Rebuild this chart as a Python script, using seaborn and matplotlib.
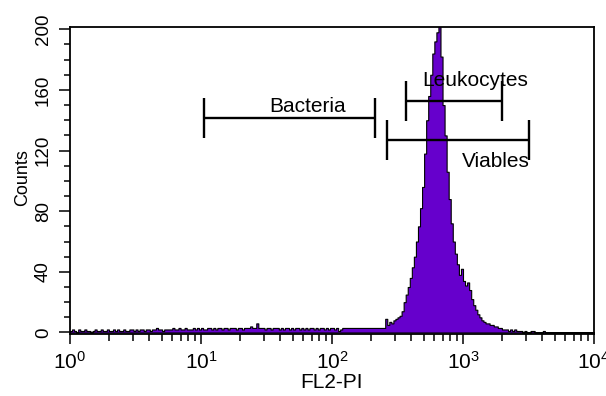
import numpy as np
import pandas as pd
import seaborn as sns
import matplotlib
matplotlib.use('Agg')
import matplotlib.pyplot as plt
from matplotlib.ticker import FixedLocator, MultipleLocator

# FL2-PI histogram, 256 log channels over 4 decades (64 channels per decade)
channels = np.arange(256)
counts = [
    1, 2, 1, 0, 2, 1, 1, 2, 1, 1, 0, 1, 2, 1, 1, 2,
    1, 1, 2, 1, 1, 2, 1, 2, 1, 1, 2, 1, 1, 2, 2, 1,
    2, 1, 2, 2, 1, 2, 2, 1, 2, 2, 3, 2, 2, 1, 2, 2,
    2, 2, 3, 2, 2, 3, 2, 2, 3, 2, 2, 2, 3, 2, 3, 2,
    3, 2, 2, 3, 3, 2, 3, 2, 3, 3, 2, 3, 3, 2, 3, 3,
    3, 2, 3, 3, 2, 3, 3, 3, 4, 3, 3, 6, 3, 3, 3, 2,
    3, 3, 2, 3, 3, 3, 2, 3, 2, 3, 3, 2, 3, 2, 3, 3,
    2, 3, 2, 3, 2, 3, 3, 2, 3, 2, 3, 3, 2, 3, 2, 3,
    3, 2, 3, 1, 2, 3, 3, 3, 3, 3, 3, 3, 3, 3, 3, 3,
    3, 3, 3, 3, 3, 3, 3, 3, 3, 3,
    9, 5, 7, 6, 8, 9, 10, 11, 14,
    20, 25, 30, 36, 43, 50, 60, 70, 82, 96, 118, 140, 156, 170, 184, 192, 198, 206,
    182, 150, 130, 106, 88, 72, 60, 52, 45, 38, 42, 34, 31, 33, 28, 22, 18, 15, 12, 10,
    8, 7, 6, 6, 5, 5, 4, 4, 3, 3, 2, 2, 2, 1, 2, 1, 2, 1, 1, 1, 0, 1, 0, 0, 1, 1,
    0, 0, 0, 0, 1, 0, 0, 0, 0, 0, 0, 0, 0, 0, 0, 0, 0, 0, 0, 0, 0, 0, 0, 0, 0, 0, 0, 0, 0,
]

# gates (FL2 intensity) and the level they are drawn at (counts)
gate_names = ['Bacteria', 'Leukocytes', 'Viables']
gate_lo = [10.6, 366, 261]
gate_hi = [213, 1974, 3174]
gate_level = [141.7, 152.9, 127.0]
label_fl2 = [65.0, 1230, 1770]
label_count = [145.6, 162.6, 109.4]

decade_labels = [r'$\mathregular{10^{0}}$', r'$\mathregular{10^{1}}$', r'$\mathregular{10^{2}}$',
                 r'$\mathregular{10^{3}}$', r'$\mathregular{10^{4}}$']

df = pd.DataFrame({'channel': channels + 0.5, 'count': counts})

sns.set_style('ticks')
plt.rcParams['font.family'] = ['Liberation Sans', 'DejaVu Sans']
plt.rcParams['mathtext.fontset'] = 'custom'
plt.rcParams['mathtext.rm'] = 'Liberation Sans'
plt.rcParams['text.color'] = 'black'
plt.rcParams['axes.labelcolor'] = 'black'
plt.rcParams['xtick.color'] = 'black'
plt.rcParams['ytick.color'] = 'black'

fig = plt.figure(figsize=(6.06, 3.96), dpi=100)
ax = fig.add_axes([70 / 606, 62 / 396, 524 / 606, 307 / 396])

sns.histplot(data=df, x='channel', weights='count', bins=256, binrange=(0, 256),
             element='step', fill=True, color='#6600CC', edgecolor='black',
             linewidth=0.8, alpha=1, ax=ax)

def to_ch(v):
    return 64 * np.log10(v)

# gate bars
for name, lo, hi, lev, lx, ly in zip(gate_names, gate_lo, gate_hi, gate_level, label_fl2, label_count):
    x0, x1 = to_ch(lo), to_ch(hi)
    ax.plot([x0, x1], [lev, lev], color='black', lw=1.7, solid_capstyle='butt')
    ax.vlines([x0, x1], lev - 13.2, lev + 13.2, color='black', lw=1.7)
    ax.text(to_ch(lx), ly, name, ha='center', va='baseline', fontsize=15, color='black')

ax.set_xlim(0, 256)
ax.set_ylim(-1, 201.5)

ax.xaxis.set_major_locator(FixedLocator([0, 64, 128, 192, 256]))
ax.set_xticklabels(decade_labels)
minor = [64 * (d + np.log10(k)) for d in range(4) for k in range(2, 10)]
ax.xaxis.set_minor_locator(FixedLocator(minor))
ax.yaxis.set_major_locator(MultipleLocator(40))
ax.yaxis.set_minor_locator(MultipleLocator(10))

ax.tick_params(axis='x', which='major', length=7.5, width=1.1, labelsize=15, pad=4.5,
               color='black', labelcolor='black')
ax.tick_params(axis='x', which='minor', length=4.8, width=1.1, color='black')
ax.tick_params(axis='y', which='major', length=8, width=1.1, labelsize=13.5, pad=5,
               color='black', labelcolor='black')
ax.tick_params(axis='y', which='minor', length=4, width=1.1, color='black')
plt.setp(ax.get_yticklabels(), rotation=90, va='center')

for s in ax.spines.values():
    s.set_visible(True)
    s.set_color('black')
    s.set_linewidth(1.3)

ax.set_xlabel('FL2-PI', fontsize=15, labelpad=0, color='black')
ax.set_ylabel('Counts', fontsize=13, color='black')
ax.yaxis.set_label_coords(-0.074, 0.51)

plt.savefig('out.png', dpi=100)
